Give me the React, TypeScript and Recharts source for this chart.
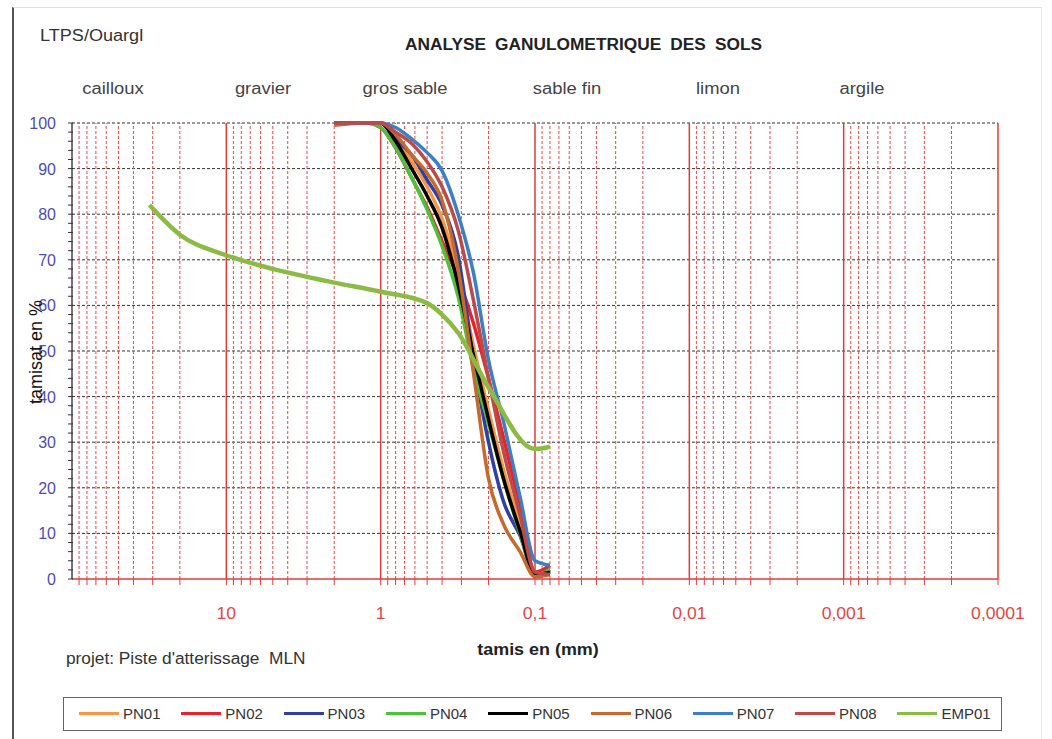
import { LineChart, Line, XAxis, YAxis, ReferenceLine } from "recharts";

// sieve sizes (mm) for the PN samples
const SIEVES = [2, 1.25, 1, 0.8, 0.63, 0.5, 0.4, 0.315, 0.25, 0.2, 0.16, 0.125, 0.1, 0.08];
const PN01 = [100, 100, 100, 96.5, 91.5, 86, 79, 67, 51, 37, 24, 12, 1, 2];
const PN02 = [100, 100, 99, 94.5, 88, 81.5, 74, 66, 56, 44, 31, 16, 1.5, 3];
const PN03 = [100, 100, 100, 96.5, 93, 87.5, 82, 71, 48, 30, 17, 9.5, 1, 2];
const PN04 = [100, 100, 99, 94.6, 88, 81, 73, 62, 46, 34, 22, 10, 1, 2];
const PN05 = [100, 100, 100, 96, 90, 84, 77, 64.5, 49, 35, 22, 10.5, 1, 1.5];
const PN06 = [99.5, 100, 100, 97.5, 93, 89, 83, 68, 45, 22, 12, 6, 0.5, 1];
const PN07 = [100, 100, 100, 99, 96.5, 93.5, 89.5, 80, 67, 48, 34.5, 18, 4, 3];
const PN08 = [100, 100, 100, 98, 95.5, 91.5, 86, 76.5, 61, 44, 28, 14, 1.5, 1];

// EMP01 has its own sieve set
const EMP_SIEVES = [31.5, 20, 10, 5, 2, 1, 0.5, 0.4, 0.315, 0.2, 0.1, 0.08];
const EMP01 = [82, 75.5, 71, 68, 65, 63, 60.5, 58, 54, 42, 28.5, 29];

const SERIES_NAMES = ["PN01", "PN02", "PN03", "PN04", "PN05", "PN06", "PN07", "PN08", "EMP01"];
const SERIES_COLORS = ["#f79646", "#e8232b", "#2f3fa6", "#4cc23a", "#000000", "#c46a2c", "#3b7fc6", "#bd4a47", "#8cbb45"];

const DECADES = [10, 1, 0.1, 0.01, 0.001, 0.0001];
const DECADE_LABELS = ["10", "1", "0,1", "0,01", "0,001", "0,0001"];
const MINOR_STEPS = [2, 3, 4, 5, 6, 7, 8, 9];
const Y_LABELS = [0, 10, 20, 30, 40, 50, 60, 70, 80, 90, 100];

const CLASSES = ["cailloux", "gravier", "gros sable", "sable fin", "limon", "argile"];
const CLASS_X = [113, 263, 405, 567, 718, 862];

const minorLines: number[] = [];
for (const d of DECADES) {
  for (const m of MINOR_STEPS) minorLines.push(+(m * d).toPrecision(3));
}
const allXTicks = [...DECADES, ...minorLines];
const yTicks: number[] = [];
for (let v = 0; v <= 100; v += 2) yTicks.push(v);

const font = "'Liberation Sans', Arial, sans-serif";

function XTick(props: any) {
  const { x, y, payload } = props;
  const idx = DECADES.indexOf(payload.value);
  return (
    <g>
      <line x1={x} x2={x} y1={y} y2={y + 6} stroke="#e03c3c" strokeWidth={1} />
      {idx >= 0 && (
        <text
          transform={`translate(${x},${y + 40}) scale(1.1,1)`}
          textAnchor="middle"
          fontSize={16}
          fill="#e04848"
          fontFamily={font}
        >
          {DECADE_LABELS[idx]}
        </text>
      )}
    </g>
  );
}

function YTick(props: any) {
  const { x, y, payload } = props;
  const major = Y_LABELS.includes(payload.value);
  return (
    <g>
      <line x1={x - 4} x2={x + 1} y1={y} y2={y} stroke="#333" strokeWidth={1} />
      {major && (
        <text x={x - 16} y={y + 6} textAnchor="end" fontSize={16} fill="#4d4db0" fontFamily={font}>
          {payload.value}
        </text>
      )}
    </g>
  );
}

const series = [PN01, PN02, PN03, PN04, PN05, PN06, PN07, PN08].map((vals) =>
  SIEVES.map((d, i) => ({ d, v: vals[i] }))
);
series.push(EMP_SIEVES.map((d, i) => ({ d, v: EMP01[i] })));

const stretch = (sx: number) => ({ transform: `scaleX(${sx})`, transformOrigin: "left center" });

export default function App() {
  return (
    <div style={{ position: "absolute", left: 0, top: 0, width: 1052, height: 739, background: "#fff", fontFamily: font, color: "#333" }}>
      <div style={{ position: "absolute", left: 12, top: 7, width: 1027, height: 732, borderLeft: "2px solid #555", borderTop: "1px solid #e2e2e2", borderRight: "1px solid #e8e8e8" }} />
      <LineChart width={1052} height={739} margin={{ top: 123, right: 54, bottom: 120, left: 0 }}>
        <XAxis
          type="number"
          dataKey="d"
          scale="log"
          domain={[0.0001, 100]}
          reversed
          allowDataOverflow
          ticks={allXTicks}
          interval={0}
          tick={<XTick />}
          tickLine={false}
          tickSize={0}
          tickMargin={0}
          height={40}
          axisLine={{ stroke: "#e03c3c", strokeWidth: 1.5 }}
        />
        <YAxis
          type="number"
          domain={[0, 100]}
          ticks={yTicks}
          interval={0}
          tick={<YTick />}
          tickLine={false}
          tickSize={0}
          tickMargin={0}
          width={72}
          axisLine={{ stroke: "#444", strokeWidth: 1.5 }}
        />
        {Y_LABELS.slice(1).map((v) => (
          <ReferenceLine key={"h" + v} y={v} stroke="#333" strokeDasharray="3 2" strokeWidth={1} />
        ))}
        {minorLines.map((v) => (
          <ReferenceLine key={"m" + v} x={v} stroke="#e34a4a" strokeDasharray="3 2" strokeWidth={1} />
        ))}
        {DECADES.map((v) => (
          <ReferenceLine key={"d" + v} x={v} stroke="#df3b3b" strokeWidth={1.5} />
        ))}
        {series.map((data, i) => (
          <Line
            key={SERIES_NAMES[i]}
            data={data}
            dataKey="v"
            name={SERIES_NAMES[i]}
            type="monotone"
            stroke={SERIES_COLORS[i]}
            strokeWidth={i === 8 ? 4.5 : 3.5}
            dot={false}
            isAnimationActive={false}
          />
        ))}
      </LineChart>

      <div style={{ position: "absolute", left: 40, top: 27, fontSize: 16, whiteSpace: "nowrap", ...stretch(1.13) }}>LTPS/Ouargl</div>
      <div style={{ position: "absolute", left: 405, top: 36, fontSize: 16, fontWeight: "bold", whiteSpace: "nowrap", color: "#222", wordSpacing: 4, ...stretch(1.08) }}>
        ANALYSE GANULOMETRIQUE DES SOLS
      </div>
      {CLASSES.map((c, i) => (
        <div key={c} style={{ position: "absolute", left: CLASS_X[i], top: 80, transform: "translateX(-50%) scaleX(1.15)", fontSize: 16, whiteSpace: "nowrap", color: "#444" }}>
          {c}
        </div>
      ))}
      <div style={{ position: "absolute", left: 36, top: 352, transform: "translate(-50%,-50%) rotate(-90deg)", fontSize: 18, whiteSpace: "nowrap", color: "#111" }}>
        tamisat en %
      </div>
      <div style={{ position: "absolute", left: 538, top: 641, transform: "translateX(-50%) scaleX(1.12)", fontSize: 16, fontWeight: "bold", whiteSpace: "nowrap", color: "#222" }}>
        tamis en (mm)
      </div>
      <div style={{ position: "absolute", left: 66, top: 650, fontSize: 16, whiteSpace: "nowrap", ...stretch(1.08) }}>
        projet: Piste d'atterissage&nbsp; MLN
      </div>

      <div style={{ position: "absolute", left: 63, top: 697, width: 939, height: 34, border: "1px solid #666", boxSizing: "border-box" }}>
        {SERIES_NAMES.map((n, i) => (
          <div key={n} style={{ position: "absolute", left: 15 + i * 102.3, top: 7, display: "flex", alignItems: "center", whiteSpace: "nowrap" }}>
            <div style={{ width: 40, height: 3, background: SERIES_COLORS[i] }} />
            <span style={{ marginLeft: 4, fontSize: 15, fontFamily: font, color: "#333" }}>{n}</span>
          </div>
        ))}
      </div>
    </div>
  );
}
